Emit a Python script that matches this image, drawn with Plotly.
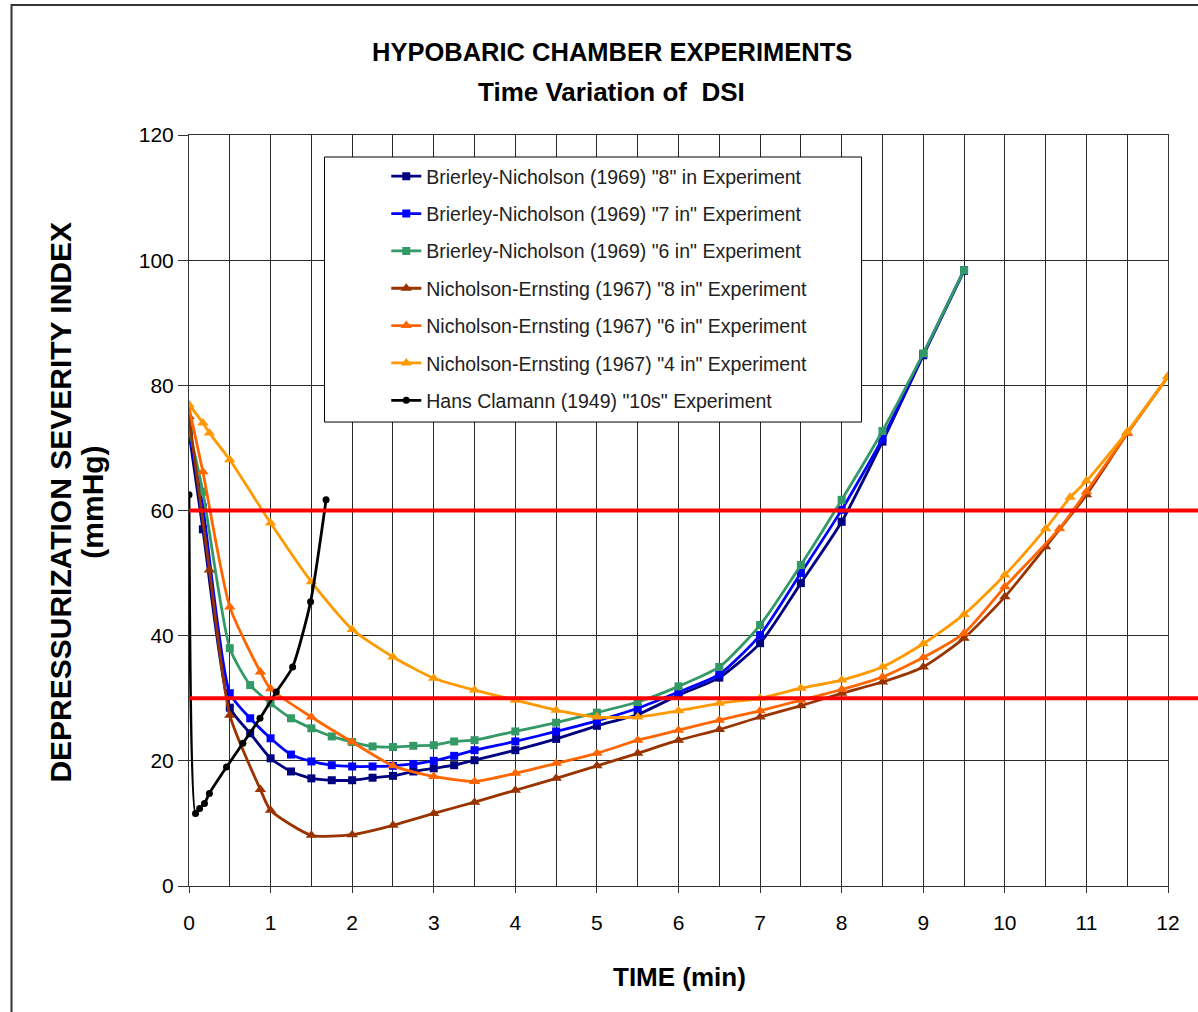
import plotly.graph_objects as go

# ---------------- data ----------------
bn_x = [0, 0.17, 0.5, 0.75, 1.0, 1.25, 1.5, 1.75, 2.0, 2.25, 2.5, 2.75, 3.0, 3.25, 3.5,
        4.0, 4.5, 5.0, 5.5, 6.0, 6.5, 7.0, 7.5, 8.0, 8.5, 9.0, 9.5]
bn8_y = [72.5, 57.0, 28.5, 24.4, 20.4, 18.3, 17.2, 16.9, 16.9, 17.3, 17.6, 18.3, 18.8, 19.3, 20.1,
         21.7, 23.5, 25.6, 27.4, 30.5, 33.3, 38.8, 48.4, 58.2, 71.0, 84.8, 98.3]
bn7_y = [72.5, 60.5, 30.8, 26.8, 23.6, 21.0, 19.9, 19.3, 19.1, 19.1, 19.2, 19.5, 20.0, 20.8, 21.7,
         23.1, 24.7, 26.4, 28.4, 31.0, 33.8, 40.1, 50.0, 60.1, 71.5, 85.0, 98.4]
bn6_y = [73.0, 63.0, 38.0, 32.1, 29.2, 26.8, 25.2, 23.9, 23.0, 22.3, 22.2, 22.4, 22.5, 23.1, 23.3,
         24.7, 26.1, 27.7, 29.4, 31.9, 35.0, 41.7, 51.3, 61.7, 72.7, 85.1, 98.4]

ne8_x = [0, 0.25, 0.5, 0.875, 1.0, 1.5, 2.0, 2.5, 3.0, 3.5, 4.0, 4.5, 5.0, 5.5, 6.0, 6.5,
         7.0, 7.5, 8.0, 8.5, 9.0, 9.5, 10.0, 10.5, 11.0, 11.5, 12.0]
ne8_y = [75.0, 50.5, 27.3, 15.4, 12.1, 8.1, 8.2, 9.7, 11.6, 13.4, 15.3, 17.2, 19.2, 21.2, 23.3, 25.0,
         27.0, 28.8, 30.8, 32.6, 35.0, 39.6, 46.2, 54.2, 62.5, 72.3, 81.4]

ne6_x = [0, 0.17, 0.5, 0.875, 1.0, 1.5, 2.0, 2.5, 3.0, 3.5, 4.0, 4.5, 5.0, 5.5, 6.0, 6.5,
         7.0, 7.5, 8.0, 8.5, 9.0, 9.5, 10.0, 10.67, 11.0, 11.5, 12.0]
ne6_y = [76.5, 66.2, 44.6, 34.2, 31.5, 27.0, 23.0, 19.2, 17.5, 16.7, 18.0, 19.6, 21.2, 23.3, 24.9, 26.5,
         28.0, 29.7, 31.4, 33.4, 36.5, 40.4, 47.8, 57.1, 63.0, 72.3, 81.4]

ne4_x = [0, 0.17, 0.25, 0.5, 1.0, 1.5, 2.0, 2.5, 3.0, 3.5, 4.0, 4.5, 5.0, 5.5, 6.0, 6.5,
         7.0, 7.5, 8.0, 8.5, 9.0, 9.5, 10.0, 10.5, 10.8, 11.0, 11.5, 12.0]
ne4_y = [76.9, 74.0, 72.4, 68.1, 58.0, 48.6, 41.0, 36.6, 33.2, 31.3, 29.7, 28.1, 27.0, 27.0, 28.0, 29.2,
         30.0, 31.6, 32.9, 35.0, 38.7, 43.4, 49.7, 57.1, 62.1, 64.7, 72.6, 81.4]

hc_x = [0, 0.08, 0.13, 0.19, 0.25, 0.46, 0.66, 0.87, 1.07, 1.27, 1.49, 1.68]
hc_y = [62.5, 11.6, 12.4, 13.2, 14.8, 19.0, 22.8, 26.8, 31.0, 35.0, 45.4, 61.7]

limit_levels = [60, 30]

x_ticks = list(range(0, 13))
y_ticks = [0, 20, 40, 60, 80, 100, 120]

series = [
    ('Brierley-Nicholson (1969) "8" in Experiment', bn_x, bn8_y, '#000080', 'square'),
    ('Brierley-Nicholson (1969) "7 in" Experiment', bn_x, bn7_y, '#0000FF', 'square'),
    ('Brierley-Nicholson (1969) "6 in" Experiment', bn_x, bn6_y, '#339966', 'square'),
    ('Nicholson-Ernsting (1967) "8 in" Experiment', ne8_x, ne8_y, '#993300', 'triangle-up'),
    ('Nicholson-Ernsting (1967) "6 in" Experiment', ne6_x, ne6_y, '#FF6600', 'triangle-up'),
    ('Nicholson-Ernsting (1967) "4 in" Experiment', ne4_x, ne4_y, '#FF9900', 'triangle-up'),
    ('Hans Clamann (1949) "10s" Experiment', hc_x, hc_y, '#000000', 'circle'),
]

FONT = "Liberation Sans, Arial, sans-serif"
SIZES = {'square': 8, 'triangle-up': 10, 'circle': 7}

fig = go.Figure()
for i, (name, xs, ys, col, sym) in enumerate(series):
    fig.add_trace(go.Scatter(
        x=xs, y=ys, name=name, mode='lines+markers',
        legendgroup=f'g{i}',
        line=dict(color=col, width=2.8, shape='spline', smoothing=0.6),
        marker=dict(color=col, symbol=sym, size=SIZES[sym]),
    ))

# red limit lines
for lv in limit_levels:
    fig.add_shape(type='line', xref='paper', yref='y', x0=0, x1=1.04, y0=lv, y1=lv,
                  line=dict(color='#FF0000', width=4), layer='above')

# legend box
fig.add_shape(type='rect', xref='paper', yref='paper', x0=0.1384, x1=0.687, y0=0.6178, y1=0.9707,
              fillcolor='white', line=dict(color='black', width=1), layer='above')

# outer frame
fig.add_shape(type='path', xref='paper', yref='paper',
              path='M -0.1813,-0.2 L -0.1813,1.1731 L 1.05,1.1731',
              line=dict(color='#333333', width=2))

fig.update_layout(
    width=1198, height=1012,
    margin=dict(l=189, r=30, t=135, b=126),
    paper_bgcolor='white', plot_bgcolor='white',
    font=dict(family=FONT, color='black'),
    showlegend=True,
    legend=dict(x=0.2015, y=0.9707, xanchor='left', yanchor='top',
                bgcolor='rgba(0,0,0,0)', borderwidth=0,
                traceorder='grouped', tracegroupgap=9,
                font=dict(family=FONT, size=19.5, color='#222222')),
    xaxis=dict(range=[0, 12], tickvals=x_ticks, ticktext=[str(v) for v in x_ticks],
               showgrid=True, gridcolor='#2a2a2a', gridwidth=1,
               minor=dict(dtick=0.5, showgrid=True, gridcolor='#2a2a2a', gridwidth=1),
               showline=True, linecolor='#333333', linewidth=1, mirror=True,
               ticks='outside', ticklen=6, tickcolor='#333333',
               ticklabelstandoff=12,
               tickfont=dict(family=FONT, size=21, color='black'), zeroline=False),
    yaxis=dict(range=[0, 120], tickvals=y_ticks,
               showgrid=True, gridcolor='#2a2a2a', gridwidth=1,
               showline=True, linecolor='#333333', linewidth=1, mirror=True,
               ticks='outside', ticklen=10, tickcolor='#333333',
               tickfont=dict(family=FONT, size=21, color='black'), zeroline=False),
    annotations=[
        dict(text='<b>HYPOBARIC CHAMBER EXPERIMENTS</b>', xref='paper', yref='paper',
             x=0.4317, y=1.1105, xanchor='center', yanchor='middle', showarrow=False,
             font=dict(family=FONT, size=25.5, color='black')),
        dict(text='<b>Time Variation of  DSI</b>', xref='paper', yref='paper',
             x=0.4317, y=1.0573, xanchor='center', yanchor='middle', showarrow=False,
             font=dict(family=FONT, size=26, color='black')),
        dict(text='<b>TIME (min)</b>', xref='paper', yref='paper',
             x=0.501, y=-0.1212, xanchor='center', yanchor='middle', showarrow=False,
             font=dict(family=FONT, size=26, color='black')),
        dict(text='<b>DEPRESSURIZATION SEVERITY INDEX</b>', xref='paper', yref='paper',
             x=-0.1314, y=0.511, xanchor='center', yanchor='middle', showarrow=False, textangle=-90,
             font=dict(family=FONT, size=30, color='black')),
        dict(text='<b>(mmHg)</b>', xref='paper', yref='paper',
             x=-0.0986, y=0.511, xanchor='center', yanchor='middle', showarrow=False, textangle=-90,
             font=dict(family=FONT, size=30, color='black')),
    ],
)

fig.write_html("out.html")
